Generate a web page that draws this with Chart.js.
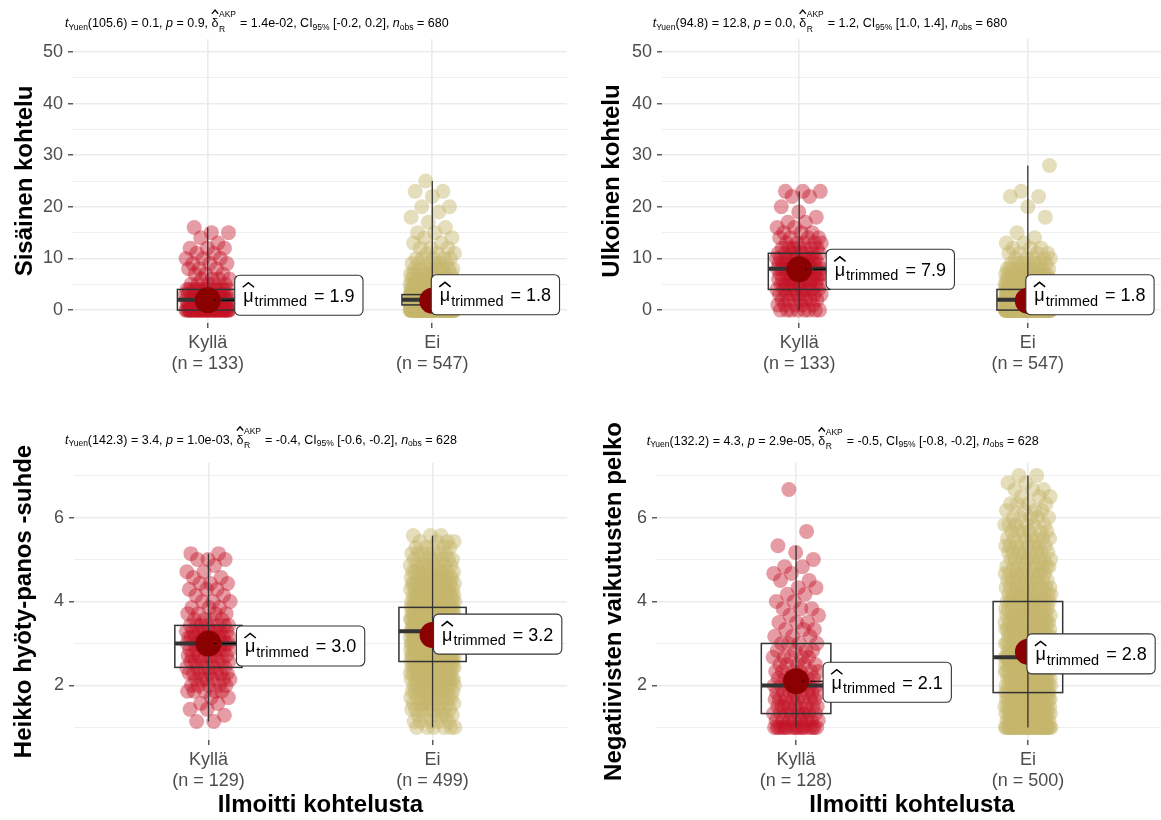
<!DOCTYPE html>
<html>
<head>
<meta charset="utf-8">
<title>Ilmoitti kohtelusta</title>
<script src="https://cdn.jsdelivr.net/npm/chart.js@4.4.1/dist/chart.umd.min.js"></script>
<style>
  html, body { margin: 0; padding: 0; background: #ffffff; width: 1161px; height: 820px; overflow: hidden; }
  .panel { position: absolute; }
  .panel canvas { display: block; }
</style>
</head>
<body>
<div class="panel" style="left:0;top:0;"><canvas id="c1" width="580" height="410"></canvas></div>
<div class="panel" style="left:580px;top:0;"><canvas id="c2" width="600" height="410"></canvas></div>
<div class="panel" style="left:0;top:410px;"><canvas id="c3" width="580" height="410"></canvas></div>
<div class="panel" style="left:580px;top:410px;"><canvas id="c4" width="600" height="410"></canvas></div>
<script>
// ---------------------------------------------------------------
// Data
// ---------------------------------------------------------------
const groups = ['Kyllä', 'Ei'];
const xAxisTitle = 'Ilmoitti kohtelusta';

// Sisäinen kohtelu: answer levels and how many respondents gave each
const sisLevels = [0,1,2,3,4,5,6,7,8,9,10,11,12,13,14,15,16,17,18,19,20,21,22,23,24,25];
const sisKylla  = [42,18,18,12,12,5,4,3,3,3,3,2,3,1,1,2,1,0,0,0,0,0,0,0,0,0];
const sisEi     = [118,112,108,80,40,24,14,10,8,6,5,3,3,2,2,2,1,1,1,1,2,0,1,2,0,1];
const sisN       = [133, 547];
const sisTrimmed = [1.9, 1.8];
const sisQ1      = [0, 1];
const sisMedian  = [2, 2];
const sisQ3      = [4, 3];
const sisLow     = [0, 0];
const sisHigh    = [16, 25];
const sisTest    = ['105.6', '0.1', '0.9', '1.4e-02', '-0.2', '0.2', '680'];

// Ulkoinen kohtelu
const ulkLevels = [0,1,2,3,4,5,6,7,8,9,10,11,12,13,14,15,16,17,18,19,20,21,22,23,24,25,26,27,28];
const ulkKylla  = [8,5,6,7,9,9,10,10,12,10,9,8,6,5,4,3,2,2,1,1,1,0,2,3,0,0,0,0,0];
const ulkEi     = [150,100,90,60,45,30,20,14,10,7,5,4,3,2,1,1,0,0,1,0,1,0,2,1,0,0,0,0,1];
const ulkN       = [133, 547];
const ulkTrimmed = [7.9, 1.8];
const ulkQ1      = [4, 0];
const ulkMedian  = [8, 2];
const ulkQ3      = [11, 4];
const ulkLow     = [0, 0];
const ulkHigh    = [23, 28];
const ulkTest    = ['94.8', '12.8', '0.0', '1.2', '1.0', '1.4', '680'];

// Heikko hyöty-panos -suhde (scale mean, steps of 1/7)
const heiLevels = [1.00,1.14,1.29,1.43,1.57,1.71,1.86,2.00,2.14,2.29,2.43,2.57,2.71,2.86,3.00,3.14,3.29,
                   3.43,3.57,3.71,3.86,4.00,4.14,4.29,4.43,4.57,4.71,4.86,5.00,5.14,5.29,5.43,5.57];
const heiKylla  = [0,2,1,2,2,2,5,5,6,7,6,7,7,9,10,10,9,7,4,4,3,3,2,3,3,2,2,1,3,2,0,0,0];
const heiEi     = [6,5,6,8,9,10,11,13,14,16,18,25,26,28,27,27,29,28,26,24,23,18,17,15,14,12,10,9,7,6,5,4,3];
const heiN       = [129, 499];
const heiTrimmed = [3.0, 3.2];
const heiQ1      = [2.43, 2.57];
const heiMedian  = [3.00, 3.29];
const heiQ3      = [3.43, 3.86];
const heiLow     = [1.14, 1.00];
const heiHigh    = [5.14, 5.57];
const heiTest    = ['142.3', '3.4', '1.0e-03', '-0.4', '-0.6', '-0.2', '628'];

// Negatiivisten vaikutusten pelko (scale mean, steps of 1/6)
const negLevels = [1.00,1.17,1.33,1.50,1.67,1.83,2.00,2.17,2.33,2.50,2.67,2.83,3.00,3.17,3.33,3.50,3.67,3.83,
                   4.00,4.17,4.33,4.50,4.67,4.83,5.00,5.17,5.33,5.50,5.67,5.83,6.00,6.17,6.33,6.50,6.67,6.83,7.00];
const negKylla  = [18,8,9,9,8,8,8,7,6,5,5,4,4,3,3,3,2,3,2,2,2,2,2,2,1,1,1,0,1,0,0,0,0,0,1,0,0];
const negEi     = [40,20,21,21,21,21,20,18,18,27,27,16,16,17,17,16,16,14,15,12,11,10,10,9,9,8,8,7,6,6,5,4,4,3,3,2,2];
const negN       = [128, 500];
const negTrimmed = [2.1, 2.8];
const negQ1      = [1.33, 1.83];
const negMedian  = [2.00, 2.67];
const negQ3      = [3.00, 4.00];
const negLow     = [1.00, 1.00];
const negHigh    = [5.33, 7.00];
const negTest    = ['132.2', '4.3', '2.9e-05', '-0.5', '-0.8', '-0.2', '628'];

// Axis ticks
const countTicks    = [0, 5, 10, 15, 20, 25, 30, 35, 40, 45, 50];
const countLabelled = [0, 10, 20, 30, 40, 50];
const scaleTicks    = [1, 2, 3, 4, 5, 6, 7];
const scaleLabelled = [2, 4, 6];

// ---------------------------------------------------------------
// Styling
// ---------------------------------------------------------------
const FONT = "'Liberation Sans', Arial, Helvetica, sans-serif";
const POINT_FILL = ['rgba(196,18,38,0.42)', 'rgba(198,182,108,0.45)'];
const MEAN_FILL = '#8B0000';
const GRID = '#EBEBEB';
const INK = '#333333';
const TICK_TEXT = '#4D4D4D';
const JITTER = 0.1;

Chart.defaults.font.family = FONT;

// spread the points of one group sideways around its category
function jitterPoints(levels, counts, gi) {
  const pts = [];
  let k = 0;
  levels.forEach((v, li) => {
    for (let c = 0; c < counts[li]; c++) {
      const u = ((k + 1) * 0.6180339887 + gi * 0.29) % 1;
      pts.push({ x: gi + 1 + JITTER * (2 * u - 1), y: v });
      k++;
    }
  });
  return pts;
}

// text with italic parts, subscripts, superscripts and hats
function drawRich(ctx, segs, x, y, size, color) {
  const small = size * 0.68;
  ctx.save();
  ctx.fillStyle = color;
  ctx.strokeStyle = color;
  ctx.textAlign = 'left';
  ctx.textBaseline = 'alphabetic';
  for (const s of segs) {
    if (s.stack) {
      ctx.font = `${small}px ${FONT}`;
      const w = Math.max(ctx.measureText(s.stack[0]).width, ctx.measureText(s.stack[1]).width);
      ctx.fillText(s.stack[0], x + 0.5, y - size * 0.82);
      ctx.fillText(s.stack[1], x + 0.5, y + size * 0.35);
      x += w + 1;
      continue;
    }
    const fs = s.sub ? small : size;
    ctx.font = `${s.it ? 'italic ' : ''}${fs}px ${FONT}`;
    const dy = s.sub ? size * 0.18 : 0;
    ctx.fillText(s.t, x, y + dy);
    const w = ctx.measureText(s.t).width;
    if (s.hat) {
      ctx.lineWidth = 1.3;
      ctx.beginPath();
      ctx.moveTo(x + 0.3, y - size * 1.08);
      ctx.lineTo(x + w / 2, y - size * 1.38);
      ctx.lineTo(x + w - 0.3, y - size * 1.08);
      ctx.stroke();
    }
    x += w;
  }
  ctx.restore();
}

function testSegments(test) {
  const [df, t, p, eff, lo, hi, nObs] = test;
  return [
    { t: 't', it: 1 }, { t: 'Yuen', sub: 1 }, { t: `(${df}) = ${t}, ` },
    { t: 'p', it: 1 }, { t: ` = ${p}, ` },
    { t: 'δ', hat: 1 }, { stack: ['AKP', 'R'] }, { t: ` = ${eff}, CI` }, { t: '95%', sub: 1 },
    { t: ` [${lo}, ${hi}], ` }, { t: 'n', it: 1 }, { t: 'obs', sub: 1 }, { t: ` = ${nObs}` }
  ];
}

function roundRectPath(ctx, x, y, w, h, r) {
  ctx.beginPath();
  ctx.moveTo(x + r, y);
  ctx.lineTo(x + w - r, y);
  ctx.arcTo(x + w, y, x + w, y + r, r);
  ctx.lineTo(x + w, y + h - r);
  ctx.arcTo(x + w, y + h, x + w - r, y + h, r);
  ctx.lineTo(x + r, y + h);
  ctx.arcTo(x, y + h, x, y + h - r, r);
  ctx.lineTo(x, y + r);
  ctx.arcTo(x, y, x + r, y, r);
  ctx.closePath();
}

// "mu-hat trimmed = value" label next to a mean point
function drawMeanLabel(ctx, cx, cy, value, dx, dy) {
  const main = `18px ${FONT}`;
  const sub = `14.5px ${FONT}`;
  const rest = ` = ${value.toFixed(1)}`;
  ctx.font = main; const wMu = ctx.measureText('μ').width; const wRest = ctx.measureText(rest).width;
  ctx.font = sub; const wSub = ctx.measureText('trimmed').width;
  const pad = 8.5, h = 40;
  const w = pad * 2 + wMu + wSub + wRest + 3;
  const left = cx + dx, top = cy + dy - h / 2;

  if (left > cx + 14) {
    ctx.save();
    ctx.strokeStyle = '#000';
    ctx.lineWidth = 1.1;
    ctx.setLineDash([2, 6, 60]);
    ctx.beginPath();
    ctx.moveTo(cx + 6, cy);
    ctx.lineTo(left, cy);
    ctx.stroke();
    ctx.restore();
  }

  ctx.save();
  roundRectPath(ctx, left, top, w, h, 5);
  ctx.fillStyle = '#ffffff';
  ctx.fill();
  ctx.strokeStyle = INK;
  ctx.lineWidth = 1.1;
  ctx.stroke();

  const base = top + h / 2 + 6.5;
  let x = left + pad;
  ctx.fillStyle = '#000';
  ctx.textBaseline = 'alphabetic';
  ctx.textAlign = 'left';
  ctx.font = main;
  ctx.fillText('μ', x, base);
  ctx.strokeStyle = '#000';
  ctx.lineWidth = 1.5;
  ctx.beginPath();
  ctx.moveTo(x - 0.5, base - 14.5);
  ctx.lineTo(x + wMu / 2, base - 19);
  ctx.lineTo(x + wMu + 0.5, base - 14.5);
  ctx.stroke();
  x += wMu + 1;
  ctx.font = sub;
  ctx.fillText('trimmed', x, base + 4.5);
  x += wSub + 2;
  ctx.font = main;
  ctx.fillText(rest, x, base);
  ctx.restore();
}

// box, median and whisker for each group, then labels and titles
function decorations(spec) {
  return {
    id: 'panelDecor',
    beforeDatasetDraw(chart, args) {
      if (args.index !== 0) return;
      const ctx = chart.ctx, xs = chart.scales.x, ys = chart.scales.y;
      ctx.save();
      ctx.strokeStyle = INK;
      groups.forEach((g, gi) => {
        const cx = xs.getPixelForValue(gi + 1);
        const hw = xs.getPixelForValue(gi + 1 + spec.boxWidth / 2) - cx;
        const yLo = ys.getPixelForValue(spec.low[gi]);
        const yHi = ys.getPixelForValue(spec.high[gi]);
        const yQ1 = ys.getPixelForValue(spec.q1[gi]);
        const yQ3 = ys.getPixelForValue(spec.q3[gi]);
        const yMed = ys.getPixelForValue(spec.median[gi]);
        ctx.lineWidth = 1.3;
        ctx.beginPath();
        ctx.moveTo(cx, yLo);
        ctx.lineTo(cx, yHi);
        ctx.stroke();
        ctx.lineWidth = 1.5;
        ctx.strokeRect(cx - hw, yQ3, hw * 2, yQ1 - yQ3);
        ctx.lineWidth = 4;
        ctx.beginPath();
        ctx.moveTo(cx - hw, yMed);
        ctx.lineTo(cx + hw, yMed);
        ctx.stroke();
      });
      ctx.restore();
    },
    afterDatasetsDraw(chart) {
      const ctx = chart.ctx, xs = chart.scales.x, ys = chart.scales.y;
      groups.forEach((g, gi) => {
        const cx = xs.getPixelForValue(gi + 1);
        const cy = ys.getPixelForValue(spec.trimmed[gi]);
        drawMeanLabel(ctx, cx, cy, spec.trimmed[gi], spec.labelDx[gi], spec.labelDy[gi]);
      });
    },
    afterDraw(chart) {
      const ctx = chart.ctx, area = chart.chartArea;
      drawRich(ctx, testSegments(spec.test), spec.subX, spec.subY, 12.5, '#000');
      ctx.save();
      ctx.translate(spec.titleX, (area.top + area.bottom) / 2);
      ctx.rotate(-Math.PI / 2);
      ctx.font = `bold 24px ${FONT}`;
      ctx.fillStyle = '#000';
      ctx.textAlign = 'center';
      ctx.textBaseline = 'middle';
      ctx.fillText(spec.yTitle, 0, 0);
      ctx.restore();
    }
  };
}

function makePanel(spec) {
  const canvas = document.getElementById(spec.canvas);
  const H = canvas.height, W = canvas.width;
  const datasets = [{
    data: spec.trimmed.map((m, i) => ({ x: i + 1, y: m })),
    pointRadius: 13, pointBackgroundColor: MEAN_FILL, pointBorderWidth: 0, order: 0
  }];
  groups.forEach((g, gi) => {
    datasets.push({
      data: jitterPoints(spec.levels, spec.counts[gi], gi),
      pointRadius: 7.5, pointBackgroundColor: POINT_FILL[gi], pointBorderWidth: 0, order: 1
    });
  });

  new Chart(canvas, {
    type: 'scatter',
    data: { datasets },
    options: {
      responsive: false,
      animation: false,
      events: [],
      layout: { padding: { left: 0, top: spec.top, right: W - spec.right, bottom: 0 } },
      plugins: { legend: { display: false }, tooltip: { enabled: false } },
      scales: {
        x: {
          type: 'linear', min: 0.4, max: 2.6,
          afterBuildTicks: s => { s.ticks = [{ value: 1 }, { value: 2 }]; },
          afterFit: s => { s.height = H - spec.bottom; },
          border: { display: false },
          grid: { color: GRID, lineWidth: 1.6, tickColor: INK, tickLength: 5, tickWidth: 1.2 },
          ticks: {
            autoSkip: false, maxRotation: 0, minRotation: 0, padding: 5, color: TICK_TEXT,
            font: { size: 18, lineHeight: 1.15 },
            callback: v => [groups[v - 1], `(n = ${spec.n[v - 1]})`]
          },
          title: {
            display: spec.showXTitle, text: xAxisTitle, color: '#000',
            font: { size: 24, weight: 'bold', lineHeight: 1.2 }, padding: { top: 0, bottom: 0 }
          }
        },
        y: {
          type: 'linear', min: spec.yMin, max: spec.yMax,
          afterBuildTicks: s => { s.ticks = spec.yTicks.map(v => ({ value: v })); },
          afterFit: s => { s.width = spec.left; },
          border: { display: false },
          grid: {
            color: GRID,
            lineWidth: c => (c.tick && spec.yLabelled.includes(c.tick.value)) ? 1.6 : 0.8,
            tickColor: c => (c.tick && spec.yLabelled.includes(c.tick.value)) ? INK : 'rgba(0,0,0,0)',
            tickLength: 5, tickWidth: 1.2
          },
          ticks: {
            autoSkip: false, padding: 5, color: TICK_TEXT, font: { size: 18 },
            callback: v => spec.yLabelled.includes(v) ? String(v) : ''
          }
        }
      }
    },
    plugins: [decorations(spec)]
  });
}

makePanel({
  canvas: 'c1', left: 73, right: 576, top: 39, bottom: 323, titleX: 25, subX: 65, subY: 27.3,
  yTitle: 'Sisäinen kohtelu', showXTitle: false, yMin: -2.5, yMax: 52.5,
  yTicks: countTicks, yLabelled: countLabelled, boxWidth: 0.27,
  levels: sisLevels, counts: [sisKylla, sisEi], n: sisN, trimmed: sisTrimmed,
  q1: sisQ1, median: sisMedian, q3: sisQ3, low: sisLow, high: sisHigh, test: sisTest,
  labelDx: [27, -1], labelDy: [-5, -6]
});
makePanel({
  canvas: 'c2', left: 82, right: 585, top: 39, bottom: 323, titleX: 32, subX: 72.7, subY: 27.3,
  yTitle: 'Ulkoinen kohtelu', showXTitle: false, yMin: -2.5, yMax: 52.5,
  yTicks: countTicks, yLabelled: countLabelled, boxWidth: 0.27,
  levels: ulkLevels, counts: [ulkKylla, ulkEi], n: ulkN, trimmed: ulkTrimmed,
  q1: ulkQ1, median: ulkMedian, q3: ulkQ3, low: ulkLow, high: ulkHigh, test: ulkTest,
  labelDx: [27, -2], labelDy: [0, -6]
});
makePanel({
  canvas: 'c3', left: 74, right: 580, top: 53, bottom: 330, titleX: 24, subX: 65, subY: 34,
  yTitle: 'Heikko hyöty-panos -suhde', showXTitle: true, yMin: 0.7, yMax: 7.3,
  yTicks: scaleTicks, yLabelled: scaleLabelled, boxWidth: 0.3,
  levels: heiLevels, counts: [heiKylla, heiEi], n: heiN, trimmed: heiTrimmed,
  q1: heiQ1, median: heiMedian, q3: heiQ3, low: heiLow, high: heiHigh, test: heiTest,
  labelDx: [28, 1], labelDy: [2.5, -1]
});
makePanel({
  canvas: 'c4', left: 77, right: 587, top: 53, bottom: 330, titleX: 34, subX: 66.7, subY: 35,
  yTitle: 'Negatiivisten vaikutusten pelko', showXTitle: true, yMin: 0.7, yMax: 7.3,
  yTicks: scaleTicks, yLabelled: scaleLabelled, boxWidth: 0.3,
  levels: negLevels, counts: [negKylla, negEi], n: negN, trimmed: negTrimmed,
  q1: negQ1, median: negMedian, q3: negQ3, low: negLow, high: negHigh, test: negTest,
  labelDx: [27, -1], labelDy: [1, 2]
});
</script>
</body>
</html>
